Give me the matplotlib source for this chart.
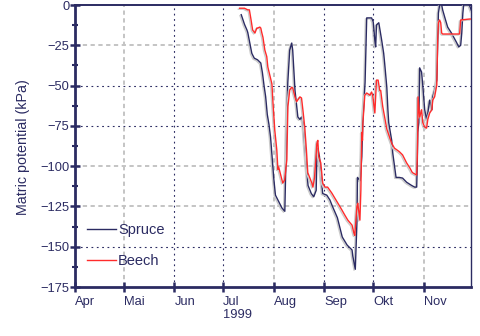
"""Matric potential under spruce and beech, summer/autumn 1999."""

import matplotlib

matplotlib.use("Agg")

import matplotlib.patheffects as pe
import matplotlib.pyplot as plt
import pandas as pd

NAVY = "#2b2b62"
RED = "#ff2b2b"
GRID_GRAY = "#c4c4c4"

plt.rcParams["font.family"] = ["Liberation Sans", "DejaVu Sans"]

# readings (1999), kPa
spruce_dates = [
    "07-12", "07-14", "07-15 12:00", "07-16", "07-18 12:00", "07-20", "07-22",
    "07-24", "07-25", "07-26", "07-27", "07-28", "07-29", "07-30", "07-31",
    "08-01", "08-02", "08-04", "08-06", "08-07 18:00", "08-09", "08-09 14:00",
    "08-10 18:00", "08-12", "08-12 14:00", "08-14", "08-15 18:00", "08-17",
    "08-18", "08-19", "08-20", "08-21", "08-22", "08-24", "08-25 12:00",
    "08-27", "08-27 10:00", "08-28", "08-29", "08-30", "08-31",
    "09-02 12:00", "09-04 10:00", "09-06", "09-09", "09-10 12:00", "09-12",
    "09-15", "09-18", "09-18 12:00", "09-20", "09-21", "09-21 08:00", "09-23",
    "09-24", "09-24 14:00", "09-26", "09-27", "09-30", "10-01", "10-02",
    "10-02 12:00", "10-03", "10-04 10:00", "10-06 05:00", "10-07 10:00",
    "10-08", "10-09 08:00", "10-10", "10-10 12:00", "10-12 08:00", "10-13",
    "10-15", "10-17", "10-19", "10-21 12:00", "10-24 14:00", "10-26 10:00",
    "10-27 16:00", "10-28", "10-28 08:00", "10-29", "10-29 12:00",
    "10-30 16:00", "10-31 10:00", "11-01 14:00", "11-02 18:00", "11-03 12:00",
    "11-04 16:00", "11-06", "11-06 12:00", "11-07 16:00", "11-09",
    "11-09 14:00", "11-10", "11-10 18:00", "11-12", "11-12 14:00", "11-14",
    "11-15 16:00", "11-18", "11-21", "11-22 12:00", "11-23 16:00",
    "11-24 08:00", "11-25", "11-25 12:00", "11-29", "11-30 10:00",
]
spruce_kpa = [
    -6, -12, -15.5, -17, -30, -33, -34,
    -36, -42, -50, -57, -68, -74, -82, -95,
    -108, -118, -122, -126, -128, -70, -48,
    -28, -23.6, -28, -53, -69.5, -71,
    -69.5, -73, -87, -100, -112, -117, -119,
    -115, -94, -89, -94, -107, -117,
    -118, -121, -125, -132, -138, -144,
    -149, -152, -156, -164, -135, -107, -109,
    -94, -73, -48, -8, -8, -10.5, -22,
    -26, -12.4, -11, -22, -30,
    -36, -51, -65, -73, -84, -92,
    -107, -107, -107.4, -110, -112, -113,
    -113, -100, -79, -73, -39,
    -41.6, -50, -65, -71, -67,
    -59, -65, -57, -53, -46.6,
    -22, -5, 0, 0, -3, -8,
    -13.7, -17.4, -23, -26, -25,
    -17.4, -5, 0, 0, -4,
]

beech_dates = [
    "07-11", "07-14", "07-16", "07-17", "07-18", "07-19", "07-20 10:00",
    "07-21 14:00", "07-22", "07-23 10:00", "07-24", "07-24 16:00",
    "07-25 08:00", "07-26 12:00", "07-27 16:00", "07-28 08:00",
    "07-30 20:00", "07-31 12:00", "08-01 14:00", "08-02 20:00",
    "08-03 12:00", "08-04", "08-06", "08-06 12:00", "08-07 16:00", "08-09",
    "08-09 12:00", "08-09 16:00", "08-10 18:00", "08-12", "08-12 14:00",
    "08-14", "08-15", "08-15 16:00", "08-17", "08-18", "08-18 20:00",
    "08-20", "08-21", "08-21 20:00", "08-24 08:00", "08-25", "08-26",
    "08-27 10:00", "08-28", "08-28 14:00", "08-29 20:00", "08-31",
    "09-01 08:00", "09-03", "09-05 14:00", "09-07 10:00", "09-09 08:00",
    "09-11 16:00", "09-13 14:00", "09-15 10:00", "09-18", "09-19",
    "09-19 16:00", "09-21", "09-21 12:00", "09-22 20:00", "09-23 10:00",
    "09-24", "09-24 10:00", "09-24 16:00", "09-25 20:00", "09-27", "09-29",
    "09-30", "09-30 16:00", "10-02", "10-03", "10-04", "10-05",
    "10-05 14:00", "10-06 20:00", "10-09 08:00", "10-11", "10-12 08:00",
    "10-14", "10-17", "10-19", "10-21 12:00", "10-23 10:00", "10-25",
    "10-27 16:00", "10-28", "10-28 08:00", "10-28 12:00", "10-29 12:00",
    "10-30 16:00", "10-31 10:00", "11-01 14:00", "11-02 18:00",
    "11-03 12:00", "11-04 16:00", "11-06", "11-06 12:00", "11-07 16:00",
    "11-09", "11-09 14:00", "11-10", "11-10 18:00", "11-11 10:00", "11-12",
    "11-12 14:00", "11-23", "11-23 16:00", "11-29", "11-30 12:00",
]
beech_kpa = [
    -2, -2, -3, -3, -9, -15.5, -17.4,
    -14.3, -14.3, -13.7, -14.3, -17.4,
    -20, -28, -32, -38.5,
    -49, -61, -77.6, -90,
    -102, -100.6, -108.6, -110.5, -108.6, -96,
    -69.5, -63, -52.8, -51, -51.5,
    -57, -60, -59, -57, -57.7, -65,
    -76, -90, -104, -110.5, -113, -107,
    -86, -84, -94, -98, -110.5,
    -113, -113, -116.7, -119.8, -123,
    -127, -130.4, -133.5, -136.6, -141,
    -143, -125, -123, -133.5, -115,
    -79, -84, -73, -56, -54.6, -56,
    -54, -56, -67, -46.6, -46.6, -53,
    -53, -63, -77, -82, -85.7,
    -88.8, -91, -93, -98, -101, -104,
    -105.5, -96, -79.5, -57, -69.5,
    -65, -73, -75.7, -76.4,
    -71, -67, -65, -59, -57,
    -49.7, -21.7, -11, -9.3, -11, -17.4,
    -18, -18, -9.3, -8.7, -8.7,
]

month_starts = ["04-01", "05-01", "06-01", "07-01", "08-01", "09-01", "10-01", "11-01"]
month_labels = ["Apr", "Mai", "Jun", "Jul\n1999", "Aug", "Sep", "Okt", "Nov"]

# two overlaid grids: light dashed and dark dotted
gray_grid_months = ["05-01", "08-01", "11-01"]
navy_grid_months = ["06-01", "07-01", "09-01", "10-01"]
gray_grid_levels = [-25, -100, -125]
navy_grid_levels = [-50, -75, -150]


def to_dates(days):
    return pd.to_datetime(["1999-" + d for d in days], format="mixed")


fig = plt.figure(figsize=(4.8, 3.36), dpi=100)
ax = fig.add_axes([0.15625, 0.1458, 0.825, 0.8393])

for d in to_dates(gray_grid_months):
    ax.axvline(d, color=GRID_GRAY, lw=1.4, ls=(0, (2.2, 1.8)), zorder=1)
for d in to_dates(navy_grid_months):
    ax.axvline(d, color=NAVY, lw=0.8, ls=(0, (1.6, 3.2)), zorder=1)
for v in gray_grid_levels:
    ax.axhline(v, color=GRID_GRAY, lw=1.4, ls=(0, (2.2, 1.8)), zorder=1)
for v in navy_grid_levels:
    ax.axhline(v, color=NAVY, lw=0.8, ls=(0, (1.6, 3.2)), zorder=1)

shadow = [pe.SimpleLineShadow(offset=(-0.9, -0.7), shadow_color="#cacaca", alpha=1.0), pe.Normal()]
ax.plot(to_dates(spruce_dates), spruce_kpa, color=NAVY, lw=1.0, label="Spruce",
        path_effects=shadow, zorder=3)
ax.plot(to_dates(beech_dates), beech_kpa, color=RED, lw=1.0, label="Beech",
        path_effects=shadow, zorder=3)

ax.set_xlim(pd.Timestamp("1999-04-01"), pd.Timestamp("1999-11-30"))
ax.set_ylim(-175, 0)

ax.set_xticks(to_dates(month_starts))
ax.set_xticklabels(month_labels, ha="left", fontsize=9.3, color=NAVY, linespacing=1.15)
ax.set_yticks(range(-175, 1, 25))
ax.set_yticks([v + 12.5 for v in range(-175, 0, 25)], minor=True)
ax.tick_params(axis="y", labelsize=9.3, labelcolor=NAVY)
ax.tick_params(axis="both", which="major", direction="inout", length=7, width=1.8, color=NAVY)
ax.tick_params(axis="y", which="minor", direction="inout", length=4.5, width=1.5, color=NAVY)
ax.tick_params(axis="x", which="major", pad=3)
ax.tick_params(axis="y", which="major", pad=0.5)

for side in ("left", "bottom"):
    ax.spines[side].set_linewidth(2.0)
    ax.spines[side].set_color(NAVY)
ax.spines["top"].set_linewidth(1.4)
ax.spines["top"].set_color(NAVY)
ax.spines["right"].set_linewidth(1.0)
ax.spines["right"].set_color(NAVY)

ax.set_ylabel("Matric potential (kPa)", fontsize=10.3, color=NAVY)
ax.yaxis.set_label_coords(-0.114, 0.497)

leg = ax.legend(loc="upper left", bbox_to_anchor=(0.03, 0.228), frameon=False,
                fontsize=10.5, handlelength=2.0, handletextpad=0.15,
                labelspacing=1.2, borderpad=0, borderaxespad=0)
for text in leg.get_texts():
    text.set_color(NAVY)
for line in leg.get_lines():
    line.set_path_effects([])
    line.set_linewidth(1.0)

fig.savefig("out.png", dpi=100)
